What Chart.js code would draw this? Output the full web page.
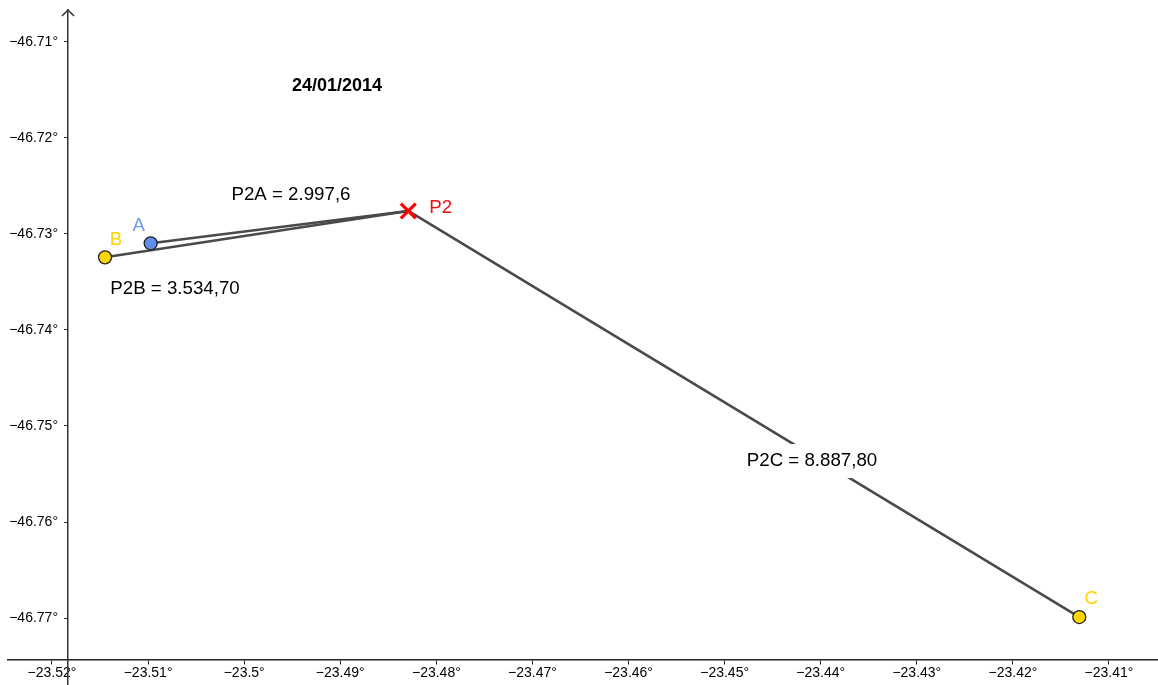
<!DOCTYPE html>
<html lang="pt">
<head>
<meta charset="utf-8">
<script src="https://cdn.jsdelivr.net/npm/chart.js@4.4.1/dist/chart.umd.min.js"></script>
<title>P2 - 24/01/2014</title>
<style>
body { margin: 0; background: #fff; }
#wrap { position: relative; width: 1158px; height: 685px; }
</style>
</head>
<body>
<div id="wrap"><canvas id="grafico"></canvas></div>
<script>
// dados (longitude no eixo x, latitude no eixo y)
var dateLabel = '24/01/2014';
var pointNames = ['A', 'B', 'C'];
var pointLon = [-23.50973, -23.51448, -23.41309];
var pointLat = [-46.73097, -46.73243, -46.76990];
var centerName = 'P2';
var centerLon = -23.48292;
var centerLat = -46.72760;
var distanceLabels = ['P2A = 2.997,6', 'P2B = 3.534,70', 'P2C = 8.887,80'];

// faixa visivel e passo dos ticks
var xRange = [-23.524579, -23.40490];
var yRange = [-46.776979, -46.706667];
var tickStep = 0.01;
var xAxisAtLat = -46.774375;
var yAxisAtLon = -23.518335;

var pointColors = ['#5f8fe8', '#ffd700', '#ffd700'];
var nameColors = ['#6e9cf2', '#ffd400', '#ffd400'];
var lineColor = '#4a4a4a';

var fmt = function (v) {
    return (Math.round(v * 100) / 100).toString().replace('-', '\u2212') + '\u00b0';
};

// segmentos P2 -> A, B, C
var segments = pointNames.map(function (n, i) {
    return {
        label: 'P2' + n,
        data: [{x: centerLon, y: centerLat}, {x: pointLon[i], y: pointLat[i]}],
        showLine: true,
        borderColor: lineColor,
        borderWidth: 2.6,
        pointRadius: 0,
        order: 2
    };
});

var pontos = {
    label: 'pontos',
    data: pointLon.map(function (x, i) { return {x: x, y: pointLat[i]}; }),
    backgroundColor: pointColors,
    borderColor: '#222',
    borderWidth: 1.3,
    pointRadius: 6.5,
    order: 1
};

var centro = {
    label: centerName,
    data: [{x: centerLon, y: centerLat}],
    pointStyle: 'crossRot',
    pointRadius: 10.5,
    borderColor: '#ff0000',
    borderWidth: 3.2,
    order: 0
};

// posicao dos textos (em coordenadas do grafico) e deslocamento dos nomes em px
var textAnchors = {
    title: [-23.49034, -46.71458],
    dist: [[-23.49513, -46.72594], [-23.5072, -46.73573], [-23.44091, -46.75365]]
};
var nameOffsets = [[-12, -17], [11, -17], [12, -18]];
var fontFamily = '"Liberation Sans", Arial, sans-serif';

var textos = {
    id: 'textos',
    afterDatasetsDraw: function (chart) {
        var ctx = chart.ctx, sx = chart.scales.x, sy = chart.scales.y;
        var ax = sx.getPixelForValue(yAxisAtLon), top = chart.chartArea.top;
        ctx.save();

        // rotulos do eixo y (a esquerda do eixo)
        ctx.font = '14px ' + fontFamily;
        ctx.fillStyle = '#000';
        ctx.textAlign = 'right';
        ctx.textBaseline = 'middle';
        sy.ticks.forEach(function (t) {
            ctx.fillText(fmt(t.value), ax - 10, sy.getPixelForValue(t.value));
        });

        // seta no topo do eixo y
        ctx.strokeStyle = '#333';
        ctx.lineWidth = 1.5;
        ctx.beginPath();
        ctx.moveTo(ax - 6, top + 6);
        ctx.lineTo(ax, top);
        ctx.lineTo(ax + 6, top + 6);
        ctx.stroke();

        ctx.textAlign = 'center';
        ctx.font = 'bold 18px ' + fontFamily;
        ctx.fillText(dateLabel, sx.getPixelForValue(textAnchors.title[0]), sy.getPixelForValue(textAnchors.title[1]));

        ctx.font = '18.7px ' + fontFamily;
        distanceLabels.forEach(function (t, i) {
            var px = sx.getPixelForValue(textAnchors.dist[i][0]);
            var py = sy.getPixelForValue(textAnchors.dist[i][1]);
            if (i === 2) {
                var w = ctx.measureText(t).width;
                ctx.fillStyle = '#fff';
                ctx.fillRect(px - w / 2 - 8, py - 17, w + 16, 34);
            }
            ctx.fillStyle = '#000';
            ctx.fillText(t, px, py);
        });

        pointNames.forEach(function (n, i) {
            ctx.fillStyle = nameColors[i];
            ctx.fillText(n, sx.getPixelForValue(pointLon[i]) + nameOffsets[i][0],
                sy.getPixelForValue(pointLat[i]) + nameOffsets[i][1]);
        });
        ctx.fillStyle = '#f01010';
        ctx.textAlign = 'left';
        ctx.fillText(centerName, sx.getPixelForValue(centerLon) + 21, sy.getPixelForValue(centerLat) - 3);
        ctx.restore();
    }
};

var noPadding = function (s) {
    s.paddingLeft = 0; s.paddingRight = 0; s.paddingTop = 0; s.paddingBottom = 0;
};

var ctx = document.getElementById('grafico').getContext('2d');
var grafico = new Chart(ctx, {
    type: 'scatter',
    data: {datasets: [centro, pontos].concat(segments)},
    options: {
        responsive: true,
        maintainAspectRatio: false,
        animation: false,
        layout: {autoPadding: false, padding: {left: 8, top: 10, right: 0, bottom: 0}},
        plugins: {legend: {display: false}, tooltip: {enabled: false}},
        scales: {
            x: {
                type: 'linear',
                min: xRange[0],
                max: xRange[1],
                position: {y: xAxisAtLat},
                afterFit: noPadding,
                border: {color: '#222', width: 1.5},
                grid: {drawOnChartArea: false, drawTicks: true, tickLength: 4, color: '#222'},
                ticks: {stepSize: tickStep, includeBounds: false, color: '#000',
                    font: {family: fontFamily, size: 14},
                    padding: 1, maxRotation: 0, autoSkip: false, callback: fmt}
            },
            y: {
                type: 'linear',
                min: yRange[0],
                max: yRange[1],
                position: {x: yAxisAtLon},
                afterFit: noPadding,
                border: {color: '#333', width: 1.5},
                grid: {drawOnChartArea: false, drawTicks: true, tickLength: 3, color: '#333'},
                ticks: {stepSize: tickStep, includeBounds: false, display: false}
            }
        }
    },
    plugins: [textos]
});
</script>
</body>
</html>
